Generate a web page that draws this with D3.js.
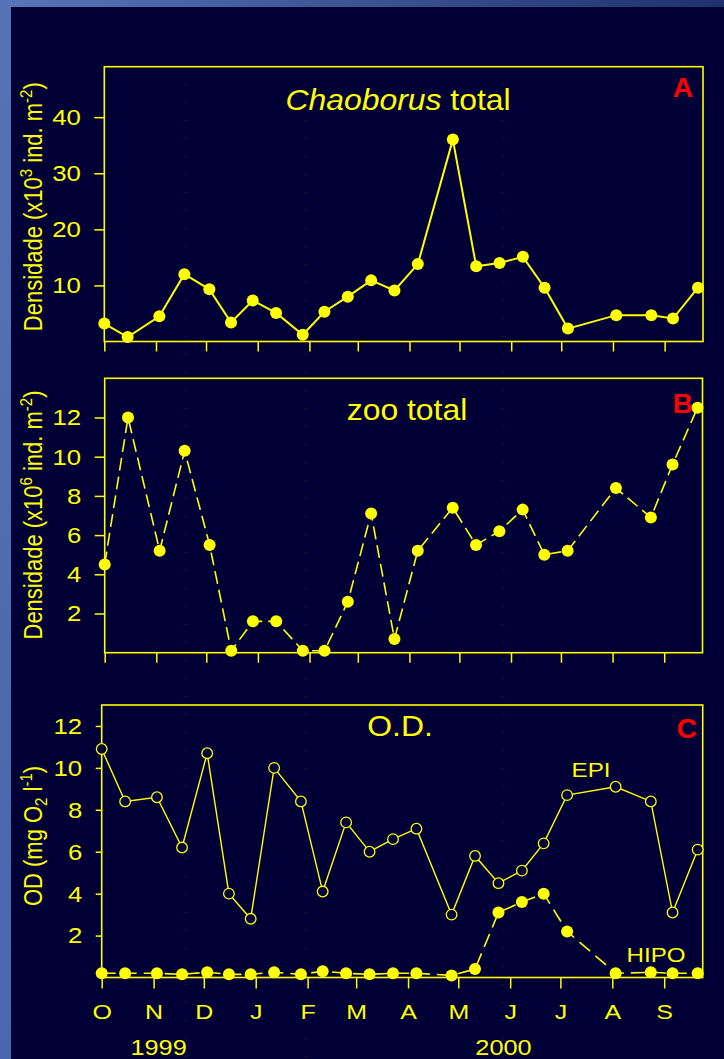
<!DOCTYPE html>
<html>
<head>
<meta charset="utf-8">
<script src="https://cdn.jsdelivr.net/npm/d3@7"></script>
<style>
    body { margin: 0; background: #000036; overflow: hidden }
    svg { display: block }
    text { font-family: "Liberation Sans", Arial, sans-serif; fill: #ffff00 }
</style>
</head>
<body>
<div id="main"></div>
<script>
//////////
// DATA //
//////////

const sample_dates = [
    "1999-10-01", "1999-10-15", "1999-11-03", "1999-11-18", "1999-12-03", "1999-12-16",
    "1999-12-29", "2000-01-12", "2000-01-28", "2000-02-10", "2000-02-24", "2000-03-09",
    "2000-03-23", "2000-04-06", "2000-04-27", "2000-05-11", "2000-05-25", "2000-06-08",
    "2000-06-21", "2000-07-05", "2000-08-03", "2000-08-24", "2000-09-06", "2000-09-21"
]

// Chaoborus total (x10^3 ind. m-2)
const chaoborus = [3.2, 0.8, 4.5, 12.0, 9.3, 3.4, 7.3, 5.1, 1.2, 5.3, 8.0, 10.9,
                   9.1, 13.8, 36.0, 13.4, 14.0, 15.1, 9.6, 2.3, 4.7, 4.7, 4.1, 9.6]

// zoo total (x10^6 ind. m-2)
const zoo = [4.5, 12.0, 5.2, 10.3, 5.5, 0.1, 1.6, 1.6, 0.1, 0.1, 2.6, 7.1,
             0.7, 5.2, 7.4, 5.5, 6.2, 7.3, 5.0, 5.2, 8.4, 6.9, 9.6, 12.5]

// O.D. (mg O2 l-1)
const epi = [10.9, 8.4, 8.6, 6.2, 10.7, 4.0, 2.8, 10.0, 8.4, 4.1, 7.4, 6.0,
             6.6, 7.1, 3.0, 5.8, 4.5, 5.1, 6.4, 8.7, 9.1, 8.4, 3.1, 6.1]
const hipo = [0.2, 0.2, 0.2, 0.15, 0.25, 0.15, 0.15, 0.25, 0.15, 0.3, 0.2, 0.15,
              0.2, 0.2, 0.1, 0.4, 3.1, 3.6, 4.0, 2.2, 0.2, 0.25, 0.2, 0.2]

const month_labels = ["O", "N", "D", "J", "F", "M", "A", "M", "J", "J", "A", "S"]
const year_labels  = ["1999", "2000"]

const ticks_a  = [10, 20, 30, 40]
const ticks_bc = [2, 4, 6, 8, 10, 12]


///////////
// SETUP //
///////////

const _ = id => { return document.getElementById(id) }

const width  = 724
const height = 1059

const YELLOW = "#ffff00"
const NAVY   = "#000036"

const parse = d3.timeParse("%Y-%m-%d")
const dates = sample_dates.map(parse)
const x_domain = [new Date(1999, 9, 1), new Date(2000, 8, 24)]

const svg = d3.select(_("main")).append("svg")
    .attr("width", width)
    .attr("height", height)

const defs = svg.append("defs")

const top_grad = defs.append("linearGradient").attr("id", "top-grad")
top_grad.append("stop").attr("offset", "0%").attr("stop-color", "#5776b8")
top_grad.append("stop").attr("offset", "100%").attr("stop-color", "#1f326c")

const left_grad = defs.append("linearGradient").attr("id", "left-grad")
    .attr("x1", 0).attr("x2", 0).attr("y1", 0).attr("y2", 1)
left_grad.append("stop").attr("offset", "0%").attr("stop-color", "#5573b6")
left_grad.append("stop").attr("offset", "100%").attr("stop-color", "#4a66ac")


//////////
// DRAW //
//////////

draw_background()

const panel_a = make_panel({ left: 104.3, right: 703, top: 66.7, bottom: 341.5, y_max: 49,
                             ticks: ticks_a, tick_len: 10, x_tick_len: 10 })
const panel_b = make_panel({ left: 104.7, right: 702.5, top: 378.3, bottom: 652.7, y_max: 14,
                             ticks: ticks_bc, tick_len: 10, x_tick_len: 10 })
const panel_c = make_panel({ left: 101.7, right: 702.7, top: 705, bottom: 977.5, y_max: 13,
                             ticks: ticks_bc, tick_len: 6, x_tick_len: 11, labels: true })

// A
y_title(panel_a, 206.7, "Densidade (x10", "3", " ind. m", "-2", ")")
panel_title(panel_a, 398, 110, [["Chaoborus", "italic"], [" total", "normal"]])
panel_letter(693, 97.3, "A")
draw_series(panel_a, chaoborus, { width: 2 })

// B
y_title(panel_b, 515, "Densidade (x10", "6", " ind. m", "-2", ")")
panel_title(panel_b, 407, 420, [["zoo total", "normal"]])
panel_letter(693, 413.3, "B")
draw_series(panel_b, zoo, { width: 1.6, dash: "13,6" })

// C
y_title_od(panel_c, 836)
panel_title(panel_c, 400, 735.7, [["O.D.", "normal"]])
panel_letter(697, 738.3, "C")
draw_series(panel_c, hipo, { width: 1.6, dash: "14,7" })
draw_series(panel_c, epi, { width: 1.4, open: true })
stretch_text(591, 776.7, "EPI", 21, 1.15)
stretch_text(656, 961.7, "HIPO", 21, 1.15)

// years
stretch_text(panel_c.x(new Date(1999, 10, 4)), 1054.5, year_labels[0], 22, 1.15)
stretch_text(panel_c.x(new Date(2000, 4, 28)), 1054.5, year_labels[1], 22, 1.15)


///////////////
// FUNCTIONS //
///////////////

function draw_background(){
    svg.append("rect")
        .attr("width", width).attr("height", height)
        .attr("fill", "url(#top-grad)")
    svg.append("rect")
        .attr("width", 11).attr("height", height)
        .attr("fill", "url(#left-grad)")
    svg.append("rect")
        .attr("x", 11).attr("y", 7)
        .attr("width", width - 11).attr("height", height - 7)
        .attr("fill", NAVY)

    // faint dotted marks on the slide
    svg.selectAll("line.mark")
        .data([186, 306, 503])
        .enter().append("line")
            .attr("class", "mark")
            .attr("x1", d => d).attr("x2", d => d)
            .attr("y1", 84).attr("y2", height)
            .attr("stroke", "#300830")
            .attr("stroke-width", 3)
            .attr("stroke-dasharray", "1,17")
}

function make_panel(p){
    const x = d3.scaleTime().domain(x_domain).range([p.left, p.right])
    const y = d3.scaleLinear().domain([0, p.y_max]).range([p.bottom, p.top])
    const g = svg.append("g")

    // y axis
    const y_axis = g.append("g")
        .attr("transform", `translate(${p.left},0)`)
        .call(d3.axisLeft(y).tickValues(p.ticks).tickSize(p.tick_len))
    style_axis(y_axis)
    y_axis.selectAll(".tick text")
        .attr("x", null)
        .attr("text-anchor", "end")
        .style("font-size", "23px")
        .attr("transform", `translate(${-(p.tick_len + 13.5)},0) scale(1.12,1)`)

    // x axis
    const x_axis = g.append("g")
        .attr("transform", `translate(0,${p.bottom})`)
        .call(d3.axisBottom(x)
            .ticks(d3.timeMonth.every(1))
            .tickSize(p.x_tick_len)
            .tickFormat((d, i) => p.labels ? month_labels[i] : ""))
    style_axis(x_axis)
    x_axis.selectAll(".tick text")
        .attr("y", null).attr("dy", null)
        .style("font-size", "20px")
        .attr("transform", `translate(0,${1019 - p.bottom}) scale(1.25,1)`)

    // box
    g.append("rect")
        .attr("x", p.left).attr("y", p.top)
        .attr("width", p.right - p.left).attr("height", p.bottom - p.top)
        .attr("fill", "none")
        .attr("stroke", YELLOW)
        .attr("stroke-width", 1.6)

    return { x, y, g, ...p }
}

function style_axis(sel){
    sel.select(".domain").remove()
    sel.attr("font-family", null).attr("font-size", null)
    sel.selectAll(".tick line").attr("stroke", YELLOW).attr("stroke-width", 1.5)
    sel.selectAll(".tick text").attr("fill", YELLOW)
}

function draw_series(panel, values, opt){
    const pts = values.map((v, i) => [dates[i], v])

    const line = d3.line()
        .x(d => panel.x(d[0]))
        .y(d => panel.y(d[1]))

    panel.g.append("path")
        .datum(pts)
        .attr("d", line)
        .attr("fill", "none")
        .attr("stroke", YELLOW)
        .attr("stroke-width", opt.width)
        .attr("stroke-dasharray", opt.dash || null)

    panel.g.selectAll(null)
        .data(pts)
        .enter().append("circle")
            .attr("cx", d => panel.x(d[0]))
            .attr("cy", d => panel.y(d[1]))
            .attr("r", opt.open ? 5.3 : 6)
            .attr("fill", opt.open ? NAVY : YELLOW)
            .attr("stroke", opt.open ? YELLOW : "none")
            .attr("stroke-width", 1.3)
}

function y_title(panel, cy, a, sup1, b, sup2, c){
    const t = svg.append("text")
        .attr("transform", `translate(41.5,${cy}) scale(1.15,1) rotate(-90)`)
        .attr("text-anchor", "middle")
        .style("font-size", "22px")
    t.append("tspan").text(a)
    t.append("tspan").style("font-size", "15px").attr("dy", -8).text(sup1)
    t.append("tspan").attr("dy", 8).text(b)
    t.append("tspan").style("font-size", "15px").attr("dy", -8).text(sup2)
    t.append("tspan").attr("dy", 8).text(c)
}

function y_title_od(panel, cy){
    const t = svg.append("text")
        .attr("transform", `translate(41.5,${cy}) scale(1.15,1) rotate(-90)`)
        .attr("text-anchor", "middle")
        .style("font-size", "22px")
    t.append("tspan").text("OD (mg O")
    t.append("tspan").style("font-size", "15px").attr("dy", 5).text("2")
    t.append("tspan").attr("dy", -5).text(" l")
    t.append("tspan").style("font-size", "15px").attr("dy", -8).text("-1")
    t.append("tspan").attr("dy", 8).text(")")
}

function panel_title(panel, cx, base, parts){
    const t = svg.append("text")
        .attr("transform", `translate(${cx},${base}) scale(1.1,1)`)
        .attr("text-anchor", "middle")
        .style("font-size", "29px")
    parts.forEach(([s, style]) => {
        t.append("tspan").attr("font-style", style).text(s)
    })
}

function panel_letter(right, base, s){
    svg.append("text")
        .attr("x", right).attr("y", base)
        .attr("text-anchor", "end")
        .style("font-size", "28px")
        .attr("font-weight", "bold")
        .style("fill", "#ff0000")
        .text(s)
}

function stretch_text(cx, base, s, size, sx){
    svg.append("text")
        .attr("transform", `translate(${cx},${base}) scale(${sx},1)`)
        .attr("text-anchor", "middle")
        .style("font-size", size + "px")
        .text(s)
}
</script>
</body>
</html>
